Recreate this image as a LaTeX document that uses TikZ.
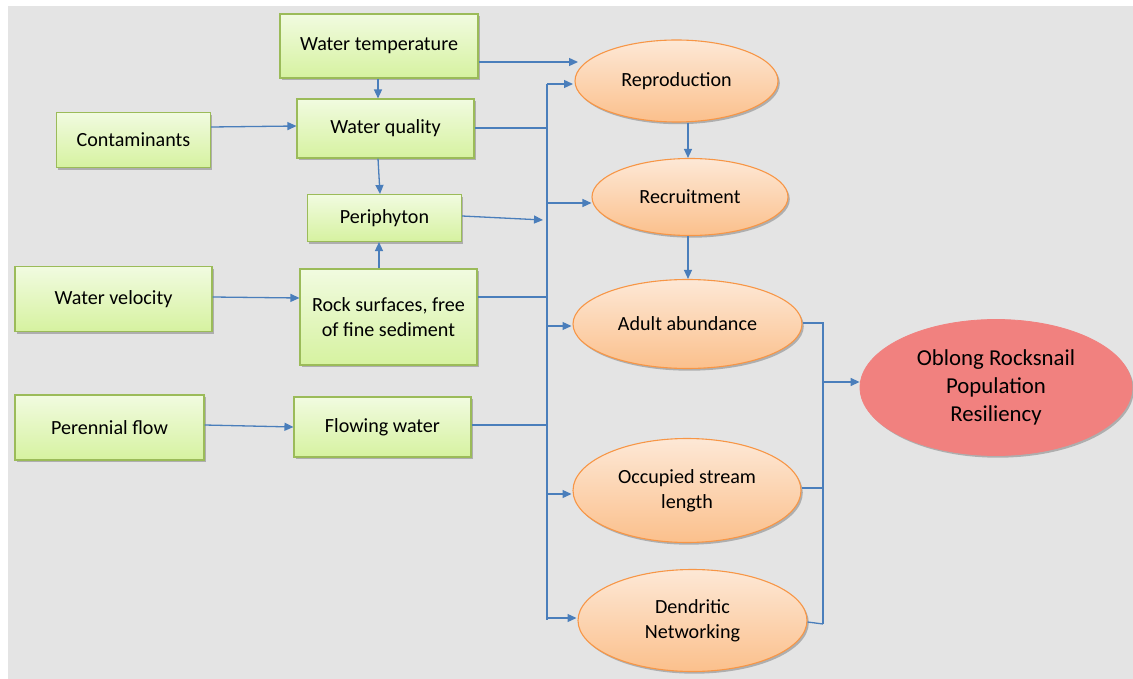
\documentclass[tikz,border=0pt]{standalone}
\usepackage{fontspec}
\setmainfont{Carlito}
\usetikzlibrary{shapes.geometric,shadows,arrows.meta,calc}
\definecolor{bgc}{HTML}{E4E4E4}
\definecolor{boxtop}{HTML}{F1FBE0}
\definecolor{boxbot}{HTML}{D6F2A0}
\definecolor{boxline}{HTML}{9BBB59}
\definecolor{elltop}{HTML}{FDE8D6}
\definecolor{ellbot}{HTML}{FBC08C}
\definecolor{ellline}{HTML}{F79646}
\definecolor{redfill}{HTML}{F1817F}
\definecolor{conncol}{HTML}{4A7EBB}
\tikzset{
  shade/.style={drop shadow={shadow xshift=1.8pt,shadow yshift=-2.2pt,opacity=0.35,fill=black!70}},
  gbox/.style={rectangle, draw=boxline, line width=1.1pt, top color=boxtop, bottom color=boxbot,
    shade, inner sep=0pt, align=center, font=\fontsize{20.1}{24.5}\selectfont},
  oell/.style={ellipse, draw=ellline, line width=1.1pt, top color=elltop, bottom color=ellbot,
    shade, inner sep=0pt, align=center, font=\fontsize{20.1}{24.5}\selectfont},
  rell/.style={ellipse, draw=redfill, line width=0.8pt, fill=redfill,
    shade, inner sep=0pt, align=center, font=\fontsize{22.8}{28}\selectfont},
  conn/.style={draw=conncol, line width=1.3pt},
  arr/.style={conn, -{Triangle[length=9pt,width=8pt]}}
}
\begin{document}
\begin{tikzpicture}[x=1pt,y=-1pt]
\useasboundingbox (0,0) rectangle (1133,679);
\fill[white] (0,0) rectangle (1133,679);
\fill[bgc] (8,6) rectangle (1133,679);

% boxes
\node[gbox, minimum width=198pt, minimum height=64pt] (wt) at (379,46) {Water temperature};
\node[gbox, minimum width=177pt, minimum height=59pt] (wq) at (385.5,128.5) {Water quality};
\node[gbox, minimum width=154pt, minimum height=55pt] (cont) at (133.5,140) {Contaminants};
\node[gbox, minimum width=154pt, minimum height=47pt] (peri) at (384.5,218) {Periphyton};
\node[gbox, minimum width=177pt, minimum height=96pt] (rock) at (388.5,317) {Rock surfaces, free\\of fine sediment};
\node[gbox, minimum width=177pt, minimum height=60pt] (flow) at (382.5,427) {Flowing water};
\node[gbox, minimum width=197pt, minimum height=65pt] (vel) at (113.5,299) {Water velocity};
\node[gbox, minimum width=189pt, minimum height=65pt] (per) at (109.5,427.5) {Perennial flow};

% ellipses
\node[oell, minimum width=203pt, minimum height=82pt] (rep) at (676.5,81) {Reproduction};
\node[oell, minimum width=196pt, minimum height=77pt] (rec) at (690,197) {Recruitment};
\node[oell, minimum width=229pt, minimum height=89pt] (adult) at (687.5,324) {Adult abundance};
\node[oell, minimum width=228pt, minimum height=104pt] (occ) at (687,490.5) {Occupied stream\\length};
\node[oell, minimum width=229pt, minimum height=102pt] (den) at (692.5,620.5) {Dendritic\\Networking};
\node[rell, minimum width=272pt, minimum height=136pt] (obl) at (996,387.5) {Oblong Rocksnail\\Population\\Resiliency};

% left bus coordinates
\coordinate (bt) at (547,84);
\coordinate (bb) at (547,620);
\coordinate (b1) at (547,128);
\coordinate (b2) at (543,220);
\coordinate (b3) at (547,297);
\coordinate (b4) at (547,425);
% right bus
\coordinate (rt) at (823,323);
\coordinate (rb) at (823,624);
\coordinate (r2) at (823,488);
\coordinate (rm) at (823,382);

% top connectors
\draw[arr] (wt.east |- 0,62) -- (578,62);
\draw[arr] ($(wt.south)+(-1,0)$) -- ($(wq.north)+(-7.5,0)$);
\draw[arr] (cont.east |- 0,127) -- (wq.west |- 0,126);
\draw[arr] ($(wq.south)+(-7.5,0)$) -- ($(peri.north)+(-4.5,0)$);
\draw[arr] ($(rock.north)+(-9.5,0)$) -- ($(peri.south)+(-5.5,0)$);
\draw[arr] (vel.east |- 0,297) -- (rock.west |- 0,298);
\draw[arr] (per.east |- 0,425) -- (flow.west |- 0,427);

% inputs to bus
\draw[conn] (wq.east |- b1) -- (b1);
\draw[arr] (peri.east |- 0,216) -- (b2);
\draw[conn] (rock.east |- b3) -- (b3);
\draw[conn] (flow.east |- b4) -- (b4);

% bus
\draw[conn] (bt) -- (bb);
\draw[arr] (bt) -- (573,84);
\draw[arr] (547,203) -- (rec.west |- 0,203);
\draw[arr] (547,326) -- (571.5,326);
\draw[arr] (547,494) -- (571.5,494);
\draw[arr] (547,618) -- (576.5,618);

% ellipse chain
\draw[arr] (rep.south -| 688,0) -- (rec.north -| 688,0);
\draw[arr] (rec.south -| 688,0) -- (adult.north -| 688,0);

% right bus
\draw[conn] (adult.east |- rt) -- (rt) -- (rb);
\draw[conn] (occ.east |- r2) -- (r2);
\draw[conn] (den.east |- 0,622) -- (rb);
\draw[arr] (rm) -- (obl.west |- rm);
\end{tikzpicture}
\end{document}
